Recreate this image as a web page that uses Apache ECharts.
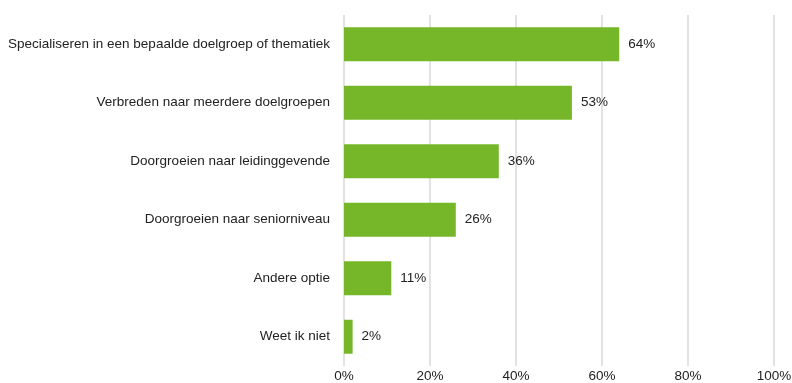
<!DOCTYPE html>
<html>
<head>
<meta charset="utf-8">
<script src="https://cdn.jsdelivr.net/npm/echarts@6/dist/echarts.min.js"></script>
<style>
  html, body { margin: 0; padding: 0; background: #fff; }
  #chart { width: 792px; height: 383px; }
</style>
</head>
<body>
<div id="chart"></div>
<script>
// data
var categories = [
    'Specialiseren in een bepaalde doelgroep of thematiek',
    'Verbreden naar meerdere doelgroepen',
    'Doorgroeien naar leidinggevende',
    'Doorgroeien naar seniorniveau',
    'Andere optie',
    'Weet ik niet'
];
var values = [64, 53, 36, 26, 11, 2];

var myChart = echarts.init(document.getElementById('chart'));

var option = {
    animation: false,
    textStyle: { fontFamily: 'Liberation Sans, Arial, sans-serif' },
    grid: {
        left: 344,
        right: 18,
        top: 15,
        bottom: 17,
        containLabel: false,
        outerBoundsMode: 'none'
    },
    xAxis: {
        type: 'value',
        min: 0,
        max: 100,
        interval: 20,
        axisLine: { show: false },
        axisTick: { show: false },
        axisLabel: {
            formatter: '{value}%',
            color: '#222',
            fontSize: 13.5,
            margin: 3
        },
        splitLine: { lineStyle: { color: '#d9d9d9', width: 1.5 } }
    },
    yAxis: {
        type: 'category',
        inverse: true,
        data: categories,
        axisLine: { show: false },
        axisTick: { show: false },
        axisLabel: {
            color: '#222',
            fontSize: 13.5,
            margin: 14
        }
    },
    series: [{
        type: 'bar',
        data: values,
        barWidth: 34,
        itemStyle: { color: '#76b72a' },
        label: {
            show: true,
            position: 'right',
            distance: 9,
            formatter: '{c}%',
            color: '#222',
            fontSize: 13.5
        }
    }]
};

myChart.setOption(option);
</script>
</body>
</html>
